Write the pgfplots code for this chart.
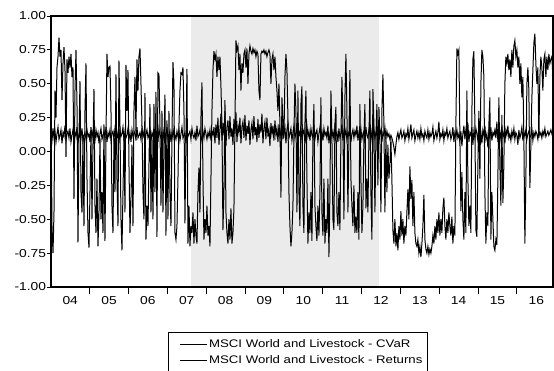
\documentclass[border=0pt]{standalone}
\usepackage{fontspec}
\setmainfont{Liberation Sans}[FakeStretch=1.2]
\usepackage{pgfplots}
\pgfplotsset{compat=1.18}
\usepackage{pgfplotstable}

% swinging series, one value per pixel column starting at x=51
\pgfplotstableread{
y
0.30
-0.55
-0.75
-0.45
0.45
0.25
0.62
0.70
0.84
0.70
0.75
0.38
0.65
0.77
0.60
-0.04
0.68
0.58
0.70
0.62
0.72
0.55
0.62
-0.35
0.45
0.75
0.35
-0.67
0.10
0.52
-0.30
-0.45
0.10
-0.55
0.30
0.65
-0.20
-0.60
-0.71
-0.30
0.15
-0.50
0.05
0.46
-0.40
-0.60
-0.20
-0.70
-0.45
0.10
-0.50
-0.30
-0.60
0.20
-0.66
0.10
0.72
0.55
0.62
0.63
0.30
-0.40
-0.60
0.10
-0.30
0.57
-0.20
-0.55
0.67
0.20
-0.50
-0.73
-0.30
0.10
-0.45
0.64
0.30
0.60
-0.10
-0.60
-0.35
0.05
-0.55
0.30
0.55
0.15
0.68
0.45
0.70
0.76
0.50
0.20
-0.30
-0.50
0.43
-0.65
-0.40
-0.55
-0.10
0.35
-0.45
0.10
-0.50
0.35
-0.30
0.44
-0.63
0.58
0.57
0.20
-0.40
0.30
-0.45
0.05
0.42
-0.62
0.23
-0.50
0.30
-0.30
-0.55
0.10
0.66
0.50
-0.60
-0.65
-0.55
-0.20
0.20
0.45
0.58
0.57
0.62
0.30
-0.53
0.10
0.61
-0.68
-0.40
-0.70
-0.55
-0.60
-0.45
-0.68
-0.50
-0.62
-0.68
-0.30
-0.12
-0.45
0.25
0.51
-0.20
-0.65
-0.50
-0.60
-0.40
-0.62
-0.55
-0.70
-0.20
0.30
0.60
0.74
0.68
0.72
0.55
0.70
0.60
0.70
0.48
0.20
-0.58
-0.30
0.38
-0.45
-0.60
-0.68
-0.50
-0.65
-0.42
-0.68
-0.60
-0.42
0.20
0.82
0.75
0.78
0.60
0.72
0.45
0.65
0.58
0.72
0.75
0.62
0.76
0.50
0.72
0.78
0.74
0.72
0.76
0.73
0.75
0.70
0.74
0.72
0.45
0.38
0.72
0.74
0.73
0.75
0.72
0.74
0.70
0.73
0.75
0.72
0.50
0.68
0.72
0.60
0.70
0.55
0.45
0.30
0.50
0.20
-0.34
0.40
0.23
0.10
0.55
0.72
0.60
0.25
-0.30
-0.55
-0.70
-0.60
-0.40
0.15
0.50
0.30
-0.45
0.45
-0.30
-0.55
0.35
0.48
-0.40
-0.60
0.20
0.45
-0.20
-0.68
-0.45
-0.60
-0.30
-0.66
0.10
0.35
-0.40
-0.55
-0.66
-0.40
-0.62
-0.30
0.40
-0.45
-0.62
-0.20
-0.68
-0.50
-0.60
-0.20
-0.78
-0.30
0.45
0.10
-0.50
-0.58
0.20
0.33
-0.45
-0.55
-0.30
-0.58
0.10
0.55
0.20
-0.50
0.40
0.72
0.30
-0.45
0.10
0.60
-0.20
-0.40
-0.55
-0.25
-0.60
-0.48
-0.60
-0.30
-0.65
0.35
-0.20
-0.60
-0.40
0.10
0.35
-0.42
-0.20
-0.45
0.10
0.45
-0.30
-0.65
0.46
0.20
-0.45
0.10
0.35
-0.25
0.33
0.10
-0.45
0.30
0.57
0.20
-0.45
0.11
-0.30
0.05
-0.20
-0.10
0.10
-0.21
-0.58
-0.68
-0.50
-0.70
-0.60
-0.73
-0.55
-0.65
-0.44
-0.62
-0.50
-0.68
-0.55
-0.62
-0.45
-0.28
-0.50
-0.11
-0.35
-0.21
-0.55
-0.30
-0.60
-0.68
-0.70
-0.65
-0.75
-0.70
-0.78
-0.68
-0.55
-0.32
-0.65
-0.72
-0.75
-0.70
-0.76
-0.72
-0.75
-0.70
-0.62
-0.68
-0.55
-0.65
-0.50
-0.60
-0.45
-0.62
-0.50
-0.60
-0.42
-0.34
-0.55
-0.65
-0.50
-0.60
-0.45
-0.55
-0.62
-0.48
-0.68
-0.55
-0.62
0.20
0.76
0.72
0.75
0.10
-0.44
-0.15
-0.50
-0.65
-0.30
-0.60
0.45
-0.20
-0.55
-0.40
-0.60
0.30
0.68
0.74
0.20
-0.58
-0.63
-0.10
0.30
-0.20
0.50
0.75
0.70
0.55
-0.30
-0.68
-0.45
-0.55
0.20
0.40
-0.65
-0.30
-0.50
-0.70
-0.73
-0.65
-0.69
-0.20
0.40
-0.10
-0.40
0.27
-0.38
-0.10
0.50
0.70
0.65
0.72
0.60
0.68
0.55
0.75
0.62
0.78
0.82
0.70
0.75
0.62
0.70
0.50
0.65
0.40
0.55
0.10
-0.68
-0.20
0.50
0.62
0.45
-0.27
0.05
0.40
0.60
0.80
0.87
0.65
0.50
0.62
0.10
0.55
0.70
0.62
0.45
0.68
0.72
0.55
0.70
0.60
0.72
0.65
0.68
0.70
0.55
}\swing

% noisy series, one value per pixel column starting at x=51
\pgfplotstableread{
y
0.14
0.08
0.17
0.10
0.15
0.07
0.13
0.18
0.09
0.12
0.16
0.06
0.14
0.11
0.19
0.08
0.13
0.15
0.10
0.17
0.07
0.12
0.16
0.09
0.14
0.11
0.18
0.06
0.13
0.15
0.10
0.17
0.08
0.12
0.14
0.09
0.16
0.11
0.13
0.07
0.18
0.10
0.15
0.12
0.08
0.16
0.11
0.14
0.06
0.13
0.17
0.09
0.12
0.15
0.10
0.18
0.07
0.14
0.11
0.16
0.08
0.13
0.15
0.09
0.17
0.12
0.10
0.14
0.06
0.16
0.11
0.13
0.18
0.08
0.15
0.10
0.12
0.17
0.09
0.14
0.07
0.16
0.11
0.13
0.15
0.08
0.18
0.10
0.12
0.14
0.09
0.17
0.11
0.15
0.06
0.13
0.16
0.10
0.12
0.18
0.08
0.14
0.11
0.16
0.09
0.13
0.15
0.07
0.17
0.12
0.10
0.14
0.08
0.16
0.13
0.11
0.18
0.09
0.12
0.15
0.07
0.14
0.10
0.17
0.12
0.09
0.15
0.11
0.16
0.08
0.13
0.18
0.10
0.12
0.14
0.06
0.16
0.11
0.13
0.15
0.09
0.17
0.12
0.10
0.14
0.08
0.19
0.11
0.13
0.16
0.07
0.12
0.15
0.10
0.17
0.13
0.09
0.14
0.11
0.16
0.08
0.15
0.12
0.18
0.06
0.20
0.10
0.25
0.05
0.16
0.28
0.08
0.21
0.12
0.30
0.04
0.18
0.23
0.09
0.26
0.11
0.17
0.05
0.24
0.13
0.29
0.07
0.19
0.14
0.25
0.06
0.18
0.22
0.10
0.27
0.08
0.19
0.13
0.23
0.05
0.16
0.21
0.09
0.26
0.12
0.18
0.07
0.24
0.10
0.20
0.14
0.28
0.06
0.17
0.22
0.09
0.25
0.11
0.16
0.04
0.21
0.13
0.19
0.08
0.23
0.12
0.17
0.07
0.20
0.10
0.15
0.24
0.09
0.14
0.18
0.06
0.16
0.21
0.10
0.13
0.17
0.08
0.14
0.19
0.10
0.13
0.21
0.07
0.15
0.12
0.18
0.09
0.14
0.16
0.06
0.13
0.19
0.11
0.15
0.08
0.17
0.12
0.10
0.20
0.09
0.14
0.16
0.07
0.13
0.18
0.11
0.15
0.08
0.17
0.12
0.14
0.10
0.19
0.06
0.13
0.16
0.11
0.15
0.09
0.18
0.12
0.14
0.07
0.17
0.10
0.13
0.20
0.08
0.15
0.12
0.16
0.09
0.14
0.11
0.18
0.07
0.13
0.16
0.10
0.15
0.12
0.19
0.08
0.14
0.11
0.17
0.09
0.13
0.15
0.06
0.18
0.12
0.10
0.16
0.13
0.08
0.15
0.11
0.17
0.10
0.14
0.12
0.19
0.09
0.13
0.16
0.07
0.14
0.12
0.18
0.10
0.15
0.11
0.13
0.09
0.12
0.10
0.07
0.03
-0.02
0.05
0.11
0.14
0.09
0.13
0.16
0.10
0.12
0.15
0.08
0.13
0.11
0.17
0.09
0.14
0.20
0.10
0.13
0.16
0.08
0.12
0.15
0.10
0.14
0.09
0.17
0.11
0.13
0.08
0.15
0.12
0.10
0.16
0.09
0.14
0.11
0.13
0.18
0.08
0.12
0.15
0.10
0.14
0.22
0.09
0.13
0.11
0.16
0.08
0.14
0.12
0.17
0.10
0.13
0.15
0.09
0.12
0.18
0.07
0.14
0.11
0.16
0.10
0.13
0.08
0.15
0.04
0.13
0.19
0.09
0.16
0.11
0.21
0.07
0.14
0.12
0.18
0.05
0.15
0.10
0.17
0.13
0.08
0.20
0.11
0.14
0.06
0.16
0.12
0.19
0.09
0.13
0.03
0.15
0.11
0.18
0.08
0.14
0.12
0.16
0.10
0.22
0.07
0.13
0.15
0.09
0.17
0.11
0.14
0.06
0.16
0.12
0.19
0.10
0.13
0.08
0.15
0.11
0.17
0.09
0.14
0.12
0.05
0.16
0.10
0.13
0.18
0.08
0.14
0.11
0.16
0.09
0.13
0.15
0.10
0.12
0.17
0.08
0.14
0.11
0.15
0.13
0.09
0.16
0.12
0.14
0.10
0.15
0.12
0.17
0.11
0.13
0.15
0.12
0.14
0.16
0.13
0.15
}\noisy

\begin{document}
\begin{tikzpicture}
\useasboundingbox (-50.8pt,-83pt) rectangle (503.2pt,287pt);
\begin{axis}[
  scale only axis,
  width=502.2pt, height=271pt,
  xmin=2004, xmax=2016.93,
  ymin=-1, ymax=1,
  axis on top,
  axis line style={line width=1.4pt},
  tick style={line width=0.8pt, black},
  tick align=outside,
  xtick pos=bottom, ytick pos=left,
  major tick length=4pt,
  minor tick length=6.5pt,
  xtick={2004.5,2005.5,2006.5,2007.5,2008.5,2009.5,2010.5,2011.5,2012.5,2013.5,2014.5,2015.5,2016.5},
  xticklabels={04,05,06,07,08,09,10,11,12,13,14,15,16},
  major x tick style={draw=none},
  minor xtick={2005,2006,2007,2008,2009,2010,2011,2012,2013,2014,2015,2016},
  ytick={-1,-0.75,-0.5,-0.25,0,0.25,0.5,0.75,1},
  yticklabels={-1.00,-0.75,-0.50,-0.25,0.00,0.25,0.50,0.75,1.00},
  ticklabel style={font=\fontsize{11.5}{13}\selectfont},
  yticklabel style={inner xsep=0.6pt},
  xticklabel style={yshift=-2pt},
  legend style={at={(axis description cs:0.233,-0.166)}, anchor=north west,
    draw=black, line width=0.7pt, font=\fontsize{11}{13}\selectfont,
    inner xsep=3pt, inner ysep=5pt, row sep=3pt},
  legend cell align=left,
  legend image code/.code={\path (0pt,0pt); \draw[#1] (8pt,0pt) -- (35pt,0pt);},
]
\addplot[fill=black!8, draw=none, forget plot] coordinates {(2007.61,-1) (2007.61,1) (2012.46,1) (2012.46,-1)} -- cycle;
\addplot[black, line width=1pt] table[x expr={2004+(\coordindex+0.2)/38.85}, y=y] {\swing};
\addplot[black, line width=1pt] table[x expr={2004+(\coordindex+0.2)/38.85}, y=y] {\noisy};
\legend{MSCI World and Livestock - CVaR, MSCI World and Livestock - Returns}
\end{axis}
\end{tikzpicture}
\end{document}
